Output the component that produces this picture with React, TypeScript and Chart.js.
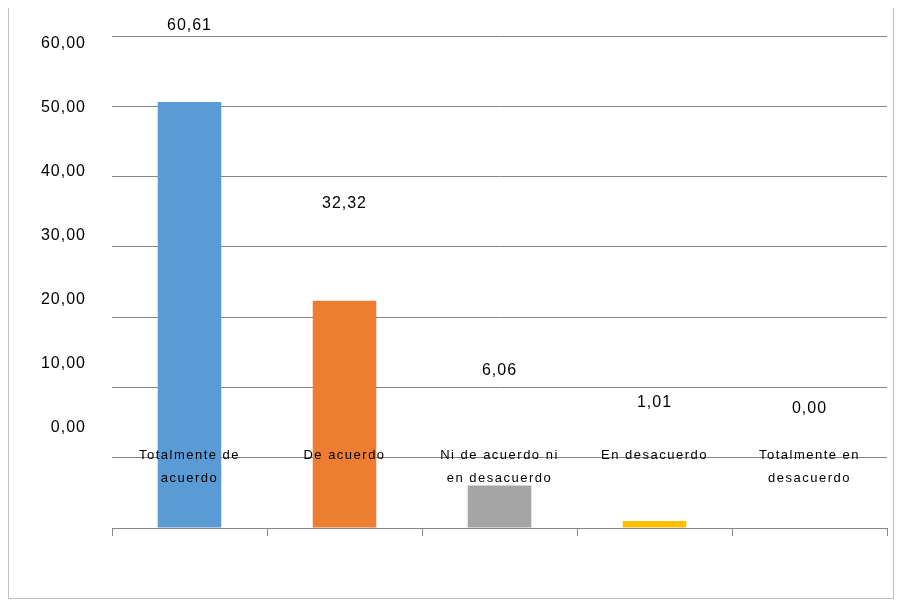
import { useEffect, useRef } from "react";
import Chart from "chart.js/auto";

const categories: string[][] = [
  ["Totalmente de", "acuerdo"],
  ["De acuerdo"],
  ["Ni de acuerdo ni", "en desacuerdo"],
  ["En desacuerdo"],
  ["Totalmente en", "desacuerdo"],
];
const values = [60.61, 32.32, 6.06, 1.01, 0.0];
const colors = ["#5B9BD5", "#ED7D31", "#A5A5A5", "#FFC000", "#4472C4"];
const yTickLabels = [0, 10, 20, 30, 40, 50, 60];

const fmt = (v: number) => v.toFixed(2).replace(".", ",");

export default function App() {
  const canvasRef = useRef<HTMLCanvasElement>(null);

  useEffect(() => {
    if (!canvasRef.current) return;
    const labelsPlugin = {
      id: "offLabels",
      afterDraw(chart: any) {
        const ctx = chart.ctx;
        const y = chart.scales.y;
        const x = chart.scales.x;
        ctx.save();
        ctx.strokeStyle = "#bfbfbf";
        ctx.lineWidth = 1;
        ctx.strokeRect(8.5, 5.5, 885, 593);
        ctx.fillStyle = "#000";
        ctx.font = "16px 'Liberation Sans', Arial, sans-serif";
        (ctx as any).letterSpacing = "1px";
        ctx.textAlign = "right";
        ctx.textBaseline = "middle";
        // y labels drawn shifted like the source
        yTickLabels.forEach((v) => {
          ctx.fillText(fmt(v), 86, y.getPixelForValue(14.3 + v * 0.91));
        });
        ctx.textAlign = "center";
        values.forEach((v, i) => {
          ctx.fillText(fmt(v), x.getPixelForValue(i), y.getPixelForValue(17 + v * 0.9));
        });
        ctx.font = "13px 'Liberation Sans', Arial, sans-serif";
        (ctx as any).letterSpacing = "1.5px";
        categories.forEach((lines, i) => {
          lines.forEach((t, j) => {
            ctx.fillText(t, x.getPixelForValue(i), 455 + j * 23);
          });
        });
        ctx.restore();
      },
    };
    const chart = new Chart(canvasRef.current, {
      type: "bar",
      data: {
        labels: categories.map((c) => c.join(" ")),
        datasets: [
          {
            data: values,
            backgroundColor: colors,
            barPercentage: 0.41,
            categoryPercentage: 1,
          },
        ],
      },
      options: {
        responsive: false,
        animation: false,
        layout: { padding: { left: 112, right: 16, top: 36, bottom: 71 } },
        plugins: { legend: { display: false }, tooltip: { enabled: false } },
        scales: {
          y: {
            min: 0,
            max: 70,
            ticks: { display: false, stepSize: 10 },
            grid: { color: "#868686", drawTicks: false },
            border: { display: false },
          },
          x: {
            offset: true,
            ticks: { display: false },
            grid: { offset: true, drawOnChartArea: false, tickLength: 8, color: "#868686" },
            border: { color: "#868686" },
          },
        },
      },
      plugins: [labelsPlugin],
    });
    return () => chart.destroy();
  }, []);

  return (
    <div style={{ margin: -8, width: 903, height: 607, background: "#fff" }}>
      <canvas ref={canvasRef} width={903} height={607} />
    </div>
  );
}
